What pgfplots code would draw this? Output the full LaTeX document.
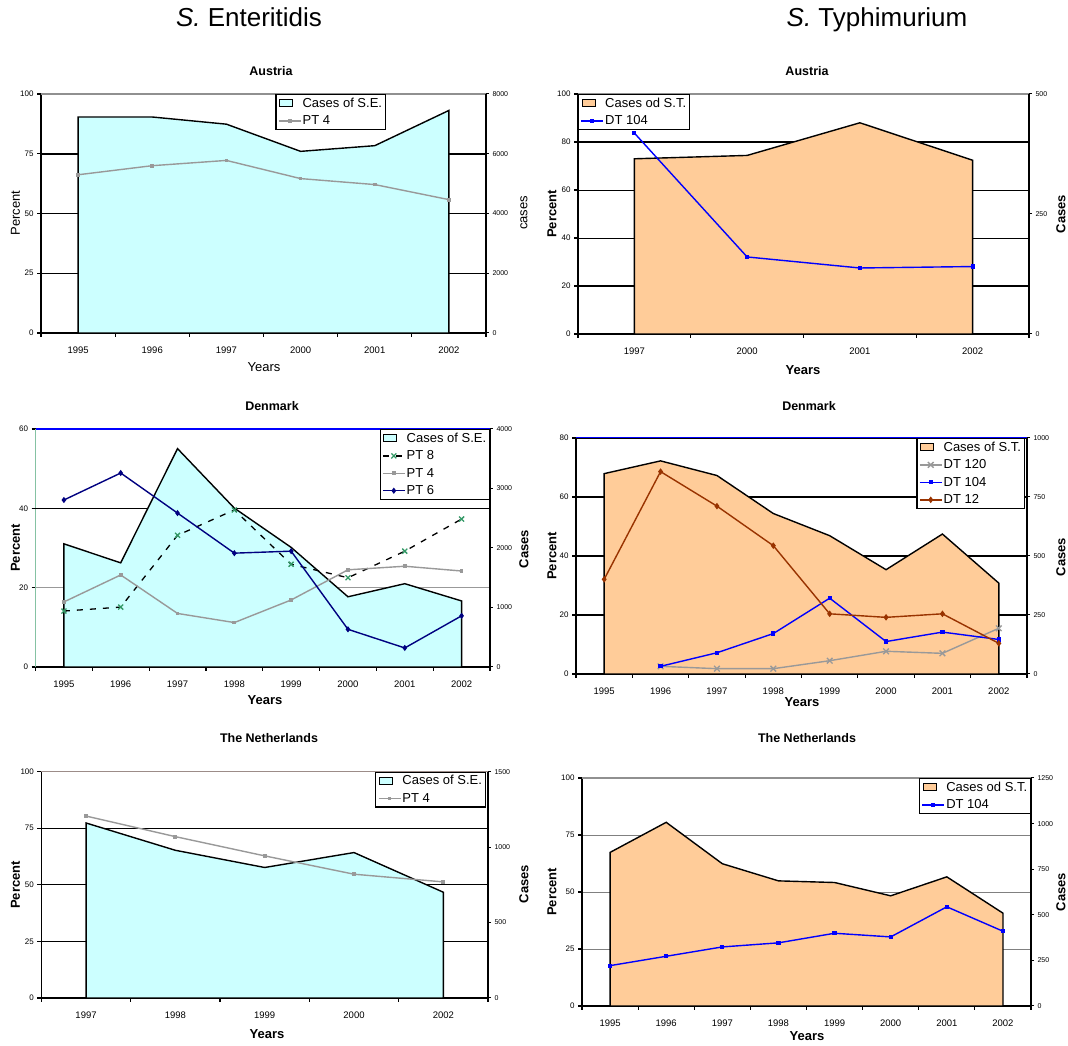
\documentclass[border=0pt]{standalone}
\usepackage{fontspec}
\setmainfont{Liberation Sans}
\usepackage{pgfplots}
\pgfplotsset{compat=1.18}

\definecolor{sefill}{HTML}{CCFFFF}
\definecolor{stfill}{HTML}{FFCC99}
\definecolor{ptgray}{HTML}{999999}
\definecolor{navy}{HTML}{000080}
\definecolor{brick}{HTML}{993300}
\definecolor{xgreen}{HTML}{339966}
\definecolor{topgray}{HTML}{909090}
\definecolor{topbrown}{HTML}{9C8C88}

\pgfplotsset{
  /pgf/number format/assume math mode=true,
  /pgf/number format/1000 sep={},
  pbase/.style={scale only axis, anchor=south west, ymin=0, clip=false},
  pleft/.style={pbase,
    axis x line*=bottom, axis y line*=left,
    axis line style={-, black, line width=1.4pt},
    tick align=outside, major tick length=4pt,
    tick style={black, line width=1.2pt},
    x tick label as interval,
    xticklabel style={font=\fontsize{9.5}{10}\selectfont, yshift=-6pt},
    yticklabel style={font=\fontsize{8}{9}\selectfont},
    scaled y ticks=false,
    ymajorgrids, grid style={black, line width=0.8pt},
  },
  pright/.style={pbase,
    axis x line=none, axis y line*=right,
    axis line style={-, black, line width=1.4pt},
    tick align=outside, major tick length=3pt,
    tick style={black, line width=1pt},
    yticklabel style={font=\fontsize{7}{8}\selectfont},
    scaled y ticks=false,
  },
  plines/.style={pbase, hide axis,
    legend cell align=left,
    legend style={draw=black, line width=1.2pt, fill=white,
      font=\fontsize{13}{15}\selectfont, inner sep=2pt, row sep=4.5pt,
      nodes={inner sep=1.2pt},
      anchor=north east, at={(1,1)}},
    legend image code/.code={\draw[mark repeat=2, mark phase=2, ##1]
        plot coordinates {(0pt,0pt) (11pt,0pt) (22pt,0pt)};},
  },
  boxlegend/.style={legend image code/.code={\draw[##1] (1pt,-3.5pt) rectangle (14pt,3.5pt);}},
}

\newcommand{\lab}{\fontsize{13}{15}\selectfont}
\newcommand{\ttl}{\fontsize{12.5}{14}\selectfont\bfseries}

\begin{document}
\begin{tikzpicture}
\useasboundingbox (0pt,0pt) rectangle (1068pt,1046pt);
\fill[white] (0pt,0pt) rectangle (1068pt,1046pt);

% column headings
\node[font=\fontsize{26}{30}\selectfont, anchor=base] at (249pt,1019pt) {\textit{S.} Enteritidis};
\node[font=\fontsize{26}{30}\selectfont, anchor=base] at (877pt,1019pt) {\textit{S.} Typhimurium};

% ================= S. Enteritidis, Austria =================
\begin{axis}[pleft, at={(41pt,713pt)}, width=445pt, height=239pt,
  xmin=-0.5, xmax=5.5, ymax=100,
  xtick={-0.5,0.5,...,5.5}, xticklabels={1995,1996,1997,2000,2001,2002},
  ytick={0,25,50,75,100},
  extra y ticks={50,75}, extra y tick labels={},
  extra y tick style={grid style={black, line width=1.6pt}}]
\draw[topgray, line width=1.6pt] (rel axis cs:0,1) -- (rel axis cs:1,1);
\end{axis}
\begin{axis}[pright, at={(41pt,713pt)}, width=445pt, height=239pt,
  xmin=-0.5, xmax=5.5, ymax=8000, ytick={0,2000,4000,6000,8000}]
\addplot[fill=sefill, draw=black, line width=1.4pt]
  coordinates {(0,7230) (1,7230) (2,6990) (3,6080) (4,6270) (5,7450)} \closedcycle;
\end{axis}
\begin{axis}[plines, at={(41pt,713pt)}, width=445pt, height=239pt,
  xmin=-0.5, xmax=5.5, ymax=100, legend style={at={(0.775,1)}}]
\addlegendimage{boxlegend, fill=sefill, draw=black, line width=1.3pt}
\addlegendentry{Cases of S.E.}
\addplot[ptgray, line width=1.4pt, mark=square*, mark size=1.2pt]
  coordinates {(0,66.2) (1,70.0) (2,72.2) (3,64.6) (4,62.1) (5,55.8)};
\addlegendentry{PT 4}
\end{axis}
\node[font=\ttl] at (271pt,975pt) {Austria};
\node[font=\lab] at (264pt,679pt) {Years};
\node[font=\lab, rotate=90] at (15.5pt,833pt) {Percent};
\node[font=\lab, rotate=90] at (524pt,833pt) {cases};

% ================= S. Typhimurium, Austria =================
\begin{axis}[pleft, at={(578pt,712pt)}, width=451pt, height=240pt,
  xmin=-0.5, xmax=3.5, ymax=100,
  xtick={-0.5,0.5,...,3.5}, xticklabels={1997,2000,2001,2002},
  ytick={0,20,40,60,80,100},
  extra y ticks={20,80}, extra y tick labels={},
  extra y tick style={grid style={black, line width=1.3pt}}]
\draw[topgray, line width=1.6pt] (rel axis cs:0,1) -- (rel axis cs:1,1);
\end{axis}
\begin{axis}[pright, at={(578pt,712pt)}, width=451pt, height=240pt,
  xmin=-0.5, xmax=3.5, ymax=500, ytick={0,250,500}]
\addplot[fill=stfill, draw=black, line width=1.4pt]
  coordinates {(0,365) (1,372) (2,440) (3,362)} \closedcycle;
\end{axis}
\begin{axis}[plines, at={(578pt,712pt)}, width=451pt, height=240pt,
  xmin=-0.5, xmax=3.5, ymax=100,
  legend style={at={(0,1)}, anchor=north west}]
\addlegendimage{boxlegend, fill=stfill, draw=black, line width=1.3pt}
\addlegendentry{Cases od S.T.}
\addplot[blue, line width=1.4pt, mark=square*, mark size=1.4pt]
  coordinates {(0,83.7) (1,32.1) (2,27.5) (3,28.1)};
\addlegendentry{DT 104}
\end{axis}
\node[font=\ttl] at (807pt,975pt) {Austria};
\node[font=\lab\bfseries] at (803pt,676pt) {Years};
\node[font=\lab\bfseries, rotate=90] at (552pt,832pt) {Percent};
\node[font=\lab\bfseries, rotate=90] at (1061pt,832pt) {Cases};

% ================= S. Enteritidis, Denmark =================
\begin{axis}[pleft, at={(35.5pt,379pt)}, width=454.5pt, height=238pt,
  xmin=-0.5, xmax=7.5, ymax=60,
  xtick={-0.5,0.5,...,7.5},
  xticklabels={1995,1996,1997,1998,1999,2000,2001,2002},
  ytick={0,20,40,60},
  y axis line style={draw=xgreen!60!white},
  grid style={ptgray, line width=0.8pt},
  extra y ticks={40}, extra y tick labels={},
  extra y tick style={grid style={black, line width=1pt}}]
\draw[blue, line width=1.4pt] (rel axis cs:0,1) -- (rel axis cs:1,1);
\end{axis}
\begin{axis}[pright, at={(35.5pt,379pt)}, width=454.5pt, height=238pt,
  xmin=-0.5, xmax=7.5, ymax=4000, ytick={0,1000,2000,3000,4000}]
\addplot[fill=sefill, draw=black, line width=1.4pt]
  coordinates {(0,2070) (1,1750) (2,3670) (3,2670) (4,2010) (5,1180) (6,1400) (7,1110)} \closedcycle;
\end{axis}
\begin{axis}[plines, at={(35.5pt,379pt)}, width=454.5pt, height=238pt,
  xmin=-0.5, xmax=7.5, ymax=60]
\addlegendimage{boxlegend, fill=sefill, draw=black, line width=1.3pt}
\addlegendentry{Cases of S.E.}
\addplot[black, line width=1.3pt, dash pattern=on 6pt off 7pt,
  mark=x, mark size=3.5pt, mark options={solid, xgreen, line width=1.3pt}]
  coordinates {(0,14.1) (1,15.1) (2,33.2) (3,39.6) (4,25.9) (5,22.5) (6,29.2) (7,37.3)};
\addlegendentry{PT 8}
\addplot[ptgray, line width=1.4pt, mark=square*, mark size=1.2pt]
  coordinates {(0,16.4) (1,23.2) (2,13.5) (3,11.2) (4,16.9) (5,24.5) (6,25.4) (7,24.2)};
\addlegendentry{PT 4}
\addplot[navy, line width=1.4pt, mark=diamond*, mark size=2pt]
  coordinates {(0,42.1) (1,48.9) (2,38.8) (3,28.7) (4,29.2) (5,9.5) (6,4.8) (7,12.9)};
\addlegendentry{PT 6}
\end{axis}
\node[font=\ttl] at (272pt,640pt) {Denmark};
\node[font=\lab\bfseries] at (265pt,346pt) {Years};
\node[font=\lab\bfseries, rotate=90] at (15.5pt,498pt) {Percent};
\node[font=\lab\bfseries, rotate=90] at (524pt,497pt) {Cases};

% ================= S. Typhimurium, Denmark =================
\begin{axis}[pleft, at={(576pt,372pt)}, width=451pt, height=236pt,
  xmin=-0.5, xmax=7.5, ymax=80,
  xtick={-0.5,0.5,...,7.5},
  xticklabels={1995,1996,1997,1998,1999,2000,2001,2002},
  ytick={0,20,40,60,80},
  grid style={black, line width=1.1pt}]
\draw[blue, line width=1pt] (rel axis cs:0,1) -- (rel axis cs:1,1);
\end{axis}
\begin{axis}[pright, at={(576pt,372pt)}, width=451pt, height=236pt,
  xmin=-0.5, xmax=7.5, ymax=1000, ytick={0,250,500,750,1000}]
\addplot[fill=stfill, draw=black, line width=1.4pt]
  coordinates {(0,849) (1,903) (2,841) (3,680) (4,586) (5,442) (6,593) (7,385)} \closedcycle;
\end{axis}
\begin{axis}[plines, at={(576pt,372pt)}, width=451pt, height=236pt,
  xmin=-0.5, xmax=7.5, ymax=80, legend style={at={(0.995,1)}}]
\addlegendimage{boxlegend, fill=stfill, draw=black, line width=1.3pt}
\addlegendentry{Cases of S.T.}
\addplot[ptgray, line width=1.4pt, mark=x, mark size=4pt, mark options={line width=1.3pt}]
  coordinates {(1,2.6) (2,1.8) (3,1.8) (4,4.5) (5,7.7) (6,7.0) (7,15.5)};
\addlegendentry{DT 120}
\addplot[blue, line width=1.4pt, mark=square*, mark size=1.4pt]
  coordinates {(1,2.6) (2,7.2) (3,13.7) (4,25.7) (5,11.0) (6,14.2) (7,11.7)};
\addlegendentry{DT 104}
\addplot[brick, line width=1.4pt, mark=diamond*, mark size=2.2pt]
  coordinates {(0,32.1) (1,68.6) (2,56.9) (3,43.5) (4,20.4) (5,19.2) (6,20.4) (7,10.4)};
\addlegendentry{DT 12}
\end{axis}
\node[font=\ttl] at (809pt,640pt) {Denmark};
\node[font=\lab\bfseries] at (802pt,344pt) {Years};
\node[font=\lab\bfseries, rotate=90] at (552pt,490pt) {Percent};
\node[font=\lab\bfseries, rotate=90] at (1061pt,489pt) {Cases};

% ================= S. Enteritidis, The Netherlands =================
\begin{axis}[pleft, at={(41.4pt,48pt)}, width=446.6pt, height=226.3pt,
  xmin=-0.5, xmax=4.5, ymax=100,
  xtick={-0.5,0.5,...,4.5}, xticklabels={1997,1998,1999,2000,2002},
  ytick={0,25,50,75,100},
  extra y ticks={50,75}, extra y tick labels={},
  extra y tick style={grid style={black, line width=1.1pt}}]
\draw[topbrown, line width=1.6pt] (rel axis cs:0,1) -- (rel axis cs:1,1);
\end{axis}
\begin{axis}[pright, at={(41.4pt,48pt)}, width=446.6pt, height=226.3pt,
  xmin=-0.5, xmax=4.5, ymax=1500, ytick={0,500,1000,1500}]
\addplot[fill=sefill, draw=black, line width=1.4pt]
  coordinates {(0,1160) (1,979) (2,865) (3,964) (4,701)} \closedcycle;
\end{axis}
\begin{axis}[plines, at={(41.4pt,48pt)}, width=446.6pt, height=226.3pt,
  xmin=-0.5, xmax=4.5, ymax=100, legend style={at={(0.995,1)}}]
\addlegendimage{boxlegend, fill=sefill, draw=black, line width=1.3pt}
\addlegendentry{Cases of S.E.}
\addplot[ptgray, line width=1.4pt, mark=square*, mark size=1.2pt]
  coordinates {(0,80.4) (1,71.3) (2,62.8) (3,54.7) (4,51.3)};
\addlegendentry{PT 4}
\end{axis}
\node[font=\ttl] at (269pt,308pt) {The Netherlands};
\node[font=\lab\bfseries] at (267pt,12pt) {Years};
\node[font=\lab\bfseries, rotate=90] at (15.5pt,161pt) {Percent};
\node[font=\lab\bfseries, rotate=90] at (524pt,162pt) {Cases};

% ================= S. Typhimurium, The Netherlands =================
\begin{axis}[pleft, at={(582pt,40pt)}, width=449pt, height=228pt,
  xmin=-0.5, xmax=7.5, ymax=100,
  xtick={-0.5,0.5,...,7.5},
  xticklabels={1995,1996,1997,1998,1999,2000,2001,2002},
  ytick={0,25,50,75,100},
  grid style={gray, line width=0.9pt}]
\draw[topgray, line width=1.6pt] (rel axis cs:0,1) -- (rel axis cs:1,1);
\end{axis}
\begin{axis}[pright, at={(582pt,40pt)}, width=449pt, height=228pt,
  xmin=-0.5, xmax=7.5, ymax=1250, ytick={0,250,500,750,1000,1250}]
\addplot[fill=stfill, draw=black, line width=1.4pt]
  coordinates {(0,842) (1,1007) (2,780) (3,686) (4,677) (5,604) (6,708) (7,509)} \closedcycle;
\end{axis}
\begin{axis}[plines, at={(582pt,40pt)}, width=449pt, height=228pt,
  xmin=-0.5, xmax=7.5, ymax=100]
\addlegendimage{boxlegend, fill=stfill, draw=black, line width=1.3pt}
\addlegendentry{Cases od S.T.}
\addplot[blue, line width=1.4pt, mark=square*, mark size=1.4pt]
  coordinates {(0,17.7) (1,21.8) (2,25.9) (3,27.7) (4,31.9) (5,30.3) (6,43.5) (7,32.8)};
\addlegendentry{DT 104}
\end{axis}
\node[font=\ttl] at (807pt,308pt) {The Netherlands};
\node[font=\lab\bfseries] at (807pt,10pt) {Years};
\node[font=\lab\bfseries, rotate=90] at (552pt,154pt) {Percent};
\node[font=\lab\bfseries, rotate=90] at (1061pt,154pt) {Cases};
\end{tikzpicture}
\end{document}
